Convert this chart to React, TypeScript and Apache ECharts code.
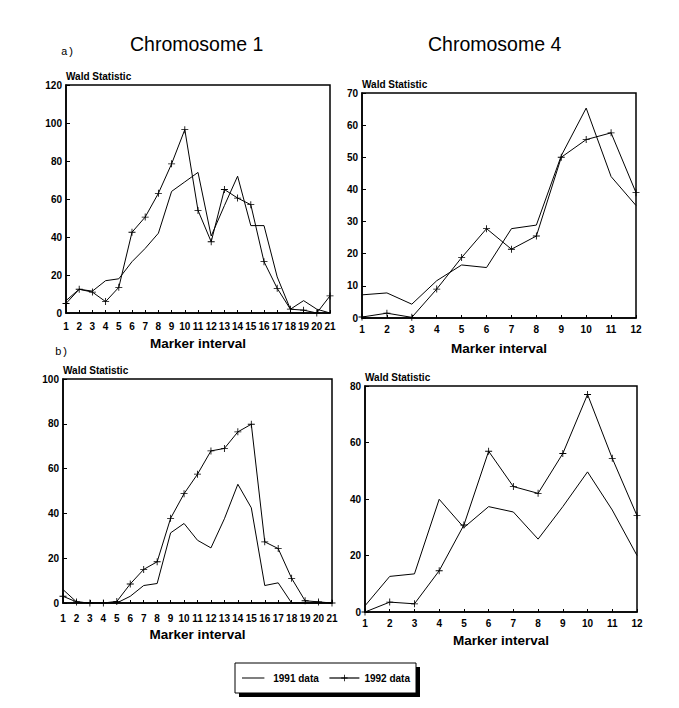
import React, { useEffect, useRef } from "react";
import * as echarts from "echarts";

const markers21 = Array.from({ length: 21 }, (_, i) => String(i + 1));
const markers12 = Array.from({ length: 12 }, (_, i) => String(i + 1));

const chr1a1991 = [6.5, 12.5, 11.5, 17, 18, 27, 34, 42, 64, 69, 74, 40.5, 56.5, 72, 46, 46, 19, 2, 6.5, 2, 0];
const chr1a1992 = [5, 12.5, 11, 6, 13.5, 42.5, 50.5, 63, 78.5, 96.5, 54, 37.5, 65, 60.5, 57, 27, 13, 2, 1.5, 0, 9];
const chr4a1991 = [7.2, 7.8, 4.3, 11.6, 16.5, 15.7, 27.8, 28.9, 50.5, 65.3, 44, 35];
const chr4a1992 = [0.3, 1.5, 0.2, 9, 18.8, 27.8, 21.4, 25.5, 50, 55.5, 57.6, 39];
const chr1b1991 = [6, 0.5, 0, 0, 0, 3, 7.8, 8.7, 31.3, 35.5, 28, 24.6, 37.6, 53, 42.5, 7.8, 9, 0, 0, 0, 0];
const chr1b1992 = [3, 0.5, 0, 0, 0.7, 8.5, 15, 18.4, 37.8, 48.8, 57.5, 67.9, 69, 76.4, 79.8, 27.3, 24.3, 11, 1, 0.5, 0];
const chr4b1991 = [2.2, 12.6, 13.5, 39.9, 29.9, 37.3, 35.4, 25.8, 37.3, 49.6, 36.1, 20];
const chr4b1992 = [0, 3.5, 2.9, 14.6, 30.8, 56.9, 44.4, 42, 56.1, 77, 54.4, 34.1];

const yMax = [120, 70, 100, 80];
const yStep = [20, 10, 20, 20];
const titles = ["Chromosome 1", "Chromosome 4"];
const panelTags = ["a)", "b)"];
const legendNames = ["1991 data", "1992 data"];

const FONT = "Liberation Sans, Arial, Helvetica, sans-serif";
const CROSS = "path://M0,4.4H10V5.6H0Z M4.4,0H5.6V10H4.4Z";
const PLAIN_ICON = "path://M0,4.3H28V5.7H0Z M0,0H0.01V0.01H0Z M0,9.99H0.01V10H0Z";

export default function App() {
  const ref = useRef<HTMLDivElement>(null);
  useEffect(() => {
    if (!ref.current) return;
    const chart = echarts.init(ref.current, null, { renderer: "svg" });
    const grids = [
      { left: 66, top: 85, width: 264, height: 228 },
      { left: 362, top: 93, width: 274, height: 225 },
      { left: 63, top: 379, width: 269, height: 224 },
      { left: 365, top: 386, width: 272, height: 226 },
    ];
    const labelMargins = [8, 6, 10, 6];
    const nameGaps = [23, 23, 24, 21];
    const cats = [markers21, markers12, markers21, markers12];
    const data1991 = [chr1a1991, chr4a1991, chr1b1991, chr4b1991];
    const data1992 = [chr1a1992, chr4a1992, chr1b1992, chr4b1992];

    const series: any[] = [];
    for (let i = 0; i < 4; i++) {
      series.push({
        name: legendNames[0],
        type: "line",
        xAxisIndex: i,
        yAxisIndex: i,
        data: data1991[i],
        symbol: "none",
        lineStyle: { color: "#000", width: 1 },
        itemStyle: { color: "#000" },
      });
      series.push({
        name: legendNames[1],
        type: "line",
        xAxisIndex: i,
        yAxisIndex: i,
        data: data1992[i],
        symbol: CROSS,
        symbolSize: 7,
        lineStyle: { color: "#000", width: 1 },
        itemStyle: { color: "#000" },
      });
    }

    const option: any = {
      animation: false,
      backgroundColor: "#fff",
      textStyle: { fontFamily: FONT, color: "#000" },
      grid: grids.map((g) => ({
        ...g,
        show: true,
        borderColor: "#000",
        borderWidth: 1.5,
        backgroundColor: "transparent",
      })),
      xAxis: grids.map((_, i) => ({
        type: "category",
        gridIndex: i,
        data: cats[i],
        boundaryGap: false,
        axisLine: { lineStyle: { color: "#000", width: 1.5 } },
        axisTick: { show: true, inside: true, length: 3, lineStyle: { color: "#000" } },
        axisLabel: {
          color: "#000",
          fontSize: 10,
          fontWeight: "bold",
          fontFamily: FONT,
          margin: labelMargins[i],
          interval: 0,
        },
        splitLine: { show: false },
        name: "Marker interval",
        nameLocation: "middle",
        nameGap: nameGaps[i],
        nameTextStyle: { color: "#000", fontSize: 13.5, fontWeight: "bold", fontFamily: FONT, verticalAlign: "top" },
      })),
      yAxis: grids.map((_, i) => ({
        type: "value",
        gridIndex: i,
        min: 0,
        max: yMax[i],
        interval: yStep[i],
        axisLine: { show: true, lineStyle: { color: "#000", width: 1.5 } },
        axisTick: { show: true, inside: true, length: 4, lineStyle: { color: "#000" } },
        axisLabel: { color: "#000", fontSize: 10, fontWeight: "bold", fontFamily: FONT, margin: 4 },
        splitLine: { show: false },
        name: "Wald Statistic",
        nameLocation: "end",
        nameGap: 4,
        nameTextStyle: { color: "#000", fontSize: 10, fontWeight: "bold", fontFamily: FONT, align: "left", verticalAlign: "bottom" },
      })),
      legend: {
        data: [
          { name: legendNames[0], icon: PLAIN_ICON },
          { name: legendNames[1] },
        ],
        left: 242,
        top: 673,
        itemWidth: 30,
        itemHeight: 8,
        itemGap: 10,
        padding: 0,
        lineStyle: { width: 1.2 },
        textStyle: { color: "#000", fontSize: 10, fontWeight: "bold", fontFamily: FONT },
        inactiveColor: "#000",
      },
      graphic: [
        { type: "text", left: 130, top: 34, style: { text: titles[0], font: "19.5px " + FONT, fill: "#000" } },
        { type: "text", left: 428, top: 34, style: { text: titles[1], font: "19.5px " + FONT, fill: "#000" } },
        { type: "text", left: 61, top: 46, style: { text: panelTags[0], font: "11px Liberation Mono, monospace", fill: "#000" } },
        { type: "text", left: 55, top: 346, style: { text: panelTags[1], font: "11px Liberation Mono, monospace", fill: "#000" } },
        { type: "rect", z: -2, shape: { x: 239, y: 667, width: 181, height: 30 }, style: { fill: "#000" } },
        { type: "rect", z: -1, shape: { x: 235, y: 663, width: 181, height: 30 }, style: { fill: "#fff", stroke: "#000", lineWidth: 1 } },
      ],
      series,
    };
    chart.setOption(option);
    return () => chart.dispose();
  }, []);
  return <div ref={ref} style={{ position: "fixed", left: 0, top: 0, width: 679, height: 708 }} />;
}
